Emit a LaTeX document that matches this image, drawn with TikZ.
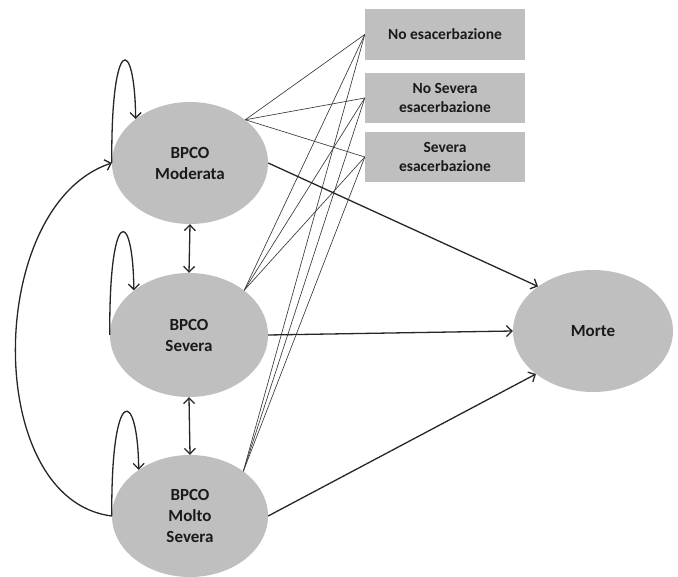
\documentclass[tikz,border=0pt]{standalone}
\usepackage{fontspec}
\setmainfont{Carlito}
\usetikzlibrary{shapes.geometric,arrows.meta}
\definecolor{nodegray}{HTML}{BFBFBF}
\definecolor{textc}{HTML}{1A1A1A}
\definecolor{linec}{HTML}{383838}
\begin{document}
\begin{tikzpicture}[x=1pt,y=-1pt,
  stnode/.style={ellipse,fill=nodegray,draw=none,inner sep=0pt,align=center,text=textc,font=\bfseries\fontsize{17}{21}\selectfont},
  outbox/.style={rectangle,fill=nodegray,draw=none,inner sep=0pt,minimum width=160pt,minimum height=50pt,align=center,text=textc,font=\bfseries\fontsize{15.5}{18.5}\selectfont},
  xlink/.style={draw=linec,line width=0.65pt},
  flow/.style={draw=black!85,line width=1.3pt,-{Straight Barb[length=5.5pt,width=11pt]}},
  both/.style={draw=black!85,line width=1.3pt,{Straight Barb[length=5.5pt,width=11pt]}-{Straight Barb[length=5.5pt,width=11pt]}}]
\useasboundingbox (0,0) rectangle (678,577);
% states
\node[stnode,minimum width=156pt,minimum height=122pt] (m1) at (190,163) {BPCO\\Moderata};
\node[stnode,minimum width=158pt,minimum height=124pt] (m2) at (189,335) {BPCO\\Severa};
\node[stnode,minimum width=156pt,minimum height=122pt] (m3) at (190,516) {BPCO\\Molto\\Severa};
\node[stnode,minimum width=160pt,minimum height=122pt] (mo) at (593,331) {Morte};
% outcome boxes
\node[outbox,minimum height=51pt] (b1) at (445,34.5) {No esacerbazione};
\node[outbox] (b2) at (445,98) {No Severa\\esacerbazione};
\node[outbox] (b3) at (445,157) {Severa\\esacerbazione};
% thin links
\foreach \s/\a in {m1/38,m2/39,m3/40}{
  \foreach \b in {b1,b2,b3}{
    \draw[xlink] (\s.\a) -- (\b.west);
  }
}
% transitions to death
\draw[flow] (m1.east) -- (mo.141);
\draw[flow] (m2.east) -- (mo.west);
\draw[flow] (m3.east) -- (mo.217);
% between states
\draw[both] (m1.south) -- (m2.north);
\draw[both] (m2.south) -- (m3.north);
% self loops
\draw[flow] (m1.west) .. controls +(-1,-128) and +(-1,-85) .. (m1.141);
\draw[flow] (m2.west) .. controls +(-1,-128) and +(-1,-85) .. (m2.141);
\draw[flow] (m3.west) .. controls +(-1,-132) and +(-1,-83) .. (m3.138);
% big return arc
\draw[flow] (m3.west) .. controls (-18,500) and (-15,205) .. (m1.west);
\end{tikzpicture}
\end{document}
